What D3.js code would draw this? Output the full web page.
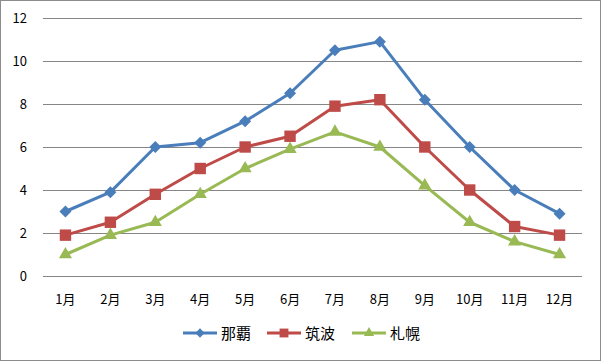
<!DOCTYPE html>
<html><head><meta charset="utf-8">
<script src="https://cdn.jsdelivr.net/npm/d3@7"></script>
<style>body{margin:0;background:#fff}svg{display:block}</style>
</head><body>
<script>
const months = ["1月","2月","3月","4月","5月","6月","7月","8月","9月","10月","11月","12月"];
const naha = [3.0,3.9,6.0,6.2,7.2,8.5,10.5,10.9,8.2,6.0,4.0,2.9];
const tsukuba = [1.9,2.5,3.8,5.0,6.0,6.5,7.9,8.2,6.0,4.0,2.3,1.9];
const sapporo = [1.0,1.9,2.5,3.8,5.0,5.9,6.7,6.0,4.2,2.5,1.6,1.0];
const seriesNames = ["那覇","筑波","札幌"];
const yTicks = [0,2,4,6,8,10,12];

const W = 601, H = 361;
const font = "'Noto Sans CJK JP', 'Noto Sans', sans-serif";
const svg = d3.select("body").append("svg").attr("width", W).attr("height", H);
svg.append("rect").attr("x",0.5).attr("y",0.5).attr("width",W-1).attr("height",H-1)
  .attr("fill","#fff").attr("stroke","#8c8c8c");

const x = d3.scaleBand().domain(months).range([43, 582]);
const y = d3.scaleLinear().domain([0,12]).range([276, 18]);

const g = svg.append("g");
g.selectAll("line.grid").data(yTicks).join("line")
  .attr("x1",43).attr("x2",582)
  .attr("y1",d=>Math.round(y(d))+0.5).attr("y2",d=>Math.round(y(d))+0.5)
  .attr("stroke","#868686").attr("stroke-width",1);

g.selectAll("text.yl").data(yTicks).join("text")
  .attr("x",27).attr("y",d=>y(d)+5).attr("text-anchor","end")
  .attr("font-family",font).attr("font-size",13).attr("fill","#000").text(d=>d);
g.selectAll("text.xl").data(months).join("text")
  .attr("x",d=>x(d)+x.bandwidth()/2).attr("y",304).attr("text-anchor","middle")
  .attr("font-family",font).attr("font-size",13).attr("fill","#000").text(d=>d);

const series = [
  {name: seriesNames[0], values: naha, color: "#4a7ebb", shape: d3.symbolSquare, size: 72, rot: 45},
  {name: seriesNames[1], values: tsukuba, color: "#be4b48", shape: d3.symbolSquare, size: 130, rot: 0},
  {name: seriesNames[2], values: sapporo, color: "#98b954", shape: d3.symbolTriangle, size: 75, rot: 0}
];
const line = d3.line().x((d,i)=>x(months[i])+x.bandwidth()/2).y(d=>y(d));
series.forEach(s=>{
  g.append("path").attr("d",line(s.values)).attr("fill","none")
    .attr("stroke",s.color).attr("stroke-width",3).attr("stroke-linejoin","round");
});
series.forEach(s=>{
  const sym = d3.symbol().type(s.shape).size(s.size);
  g.selectAll(null).data(s.values).join("path")
    .attr("d", sym)
    .attr("transform",(d,i)=>`translate(${x(months[i])+x.bandwidth()/2},${y(d)}) rotate(${s.rot})`)
    .attr("fill",s.color);
});

const legendX = [183, 267, 352];
series.forEach((s,i)=>{
  const lg = svg.append("g").attr("transform",`translate(${legendX[i]},333)`);
  lg.append("line").attr("x1",0).attr("x2",34).attr("y1",0).attr("y2",0)
    .attr("stroke",s.color).attr("stroke-width",3);
  lg.append("path").attr("d",d3.symbol().type(s.shape).size(s.size*0.6)())
    .attr("transform",`translate(17,0) rotate(${s.rot})`).attr("fill",s.color);
  lg.append("text").attr("x",38).attr("y",6).attr("font-family",font)
    .attr("font-size",15).attr("fill","#000").text(s.name);
});
</script>
</body></html>
